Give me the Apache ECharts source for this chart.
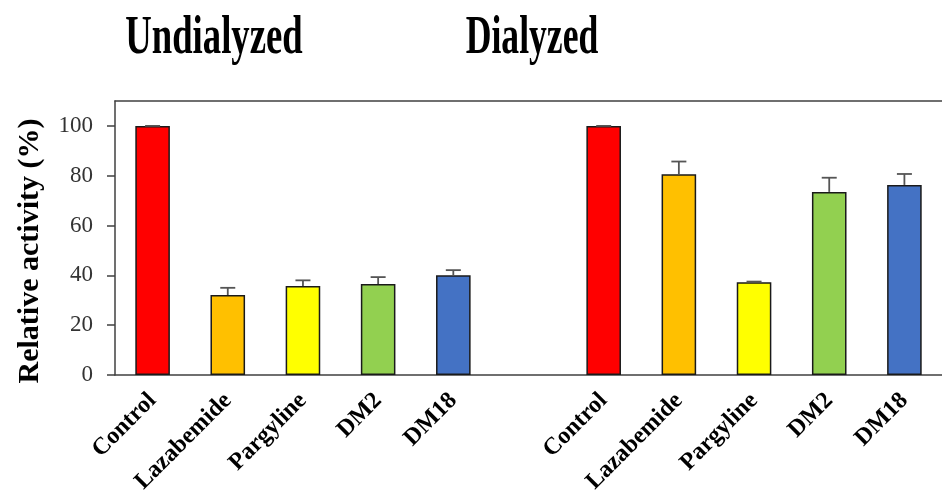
<!DOCTYPE html>
<html>
<head>
<meta charset="utf-8">
<script src="https://cdn.jsdelivr.net/npm/echarts@6/dist/echarts.min.js"></script>
<style>
  html, body { margin: 0; padding: 0; background: #fff; }
  #chart { width: 942px; height: 501px; }
</style>
</head>
<body>
<div id="chart"></div>
<script>
// Panel titles and treatments
const panelTitles = ['Undialyzed', 'Dialyzed'];
const yAxisTitle = 'Relative activity (%)';
const drugs = ['Control', 'Lazabemide', 'Pargyline', 'DM2', 'DM18'];
const drugColors = ['#ff0000', '#ffc000', '#ffff00', '#92d050', '#4472c4'];

// Relative activity (%) with upper error (SD)
const undialyzedMean = [100, 32.1, 35.7, 36.5, 40.0];
const undialyzedErr  = [0, 2.9, 2.3, 2.8, 2.1];
const dialyzedMean   = [100, 80.6, 37.2, 73.5, 76.3];
const dialyzedErr    = [0, 5.1, 0.3, 5.7, 4.4];

// Value axis ticks
const yTicks = [0, 20, 40, 60, 80, 100];
const yMax = 110;

// Category axis: the two groups separated by one empty slot
const categories = [...drugs, '', ...drugs];
const means = [...undialyzedMean, null, ...dialyzedMean];
const errs = [...undialyzedErr, null, ...dialyzedErr];
const colors = [...drugColors, null, ...drugColors];

const barData = means.map((v, i) => v === null ? null : {
  value: v,
  itemStyle: { color: colors[i] }
});
const errData = means.map((v, i) => v === null ? null : [i, v, v + errs[i]]);

const axisColor = '#404040';
const serif = '"Liberation Serif", "Times New Roman", serif';

const chart = echarts.init(document.getElementById('chart'));
chart.setOption({
  animation: false,
  backgroundColor: '#ffffff',
  grid: { left: 115, top: 101, bottom: 126, right: -11, containLabel: false },
  xAxis: [{
    type: 'category',
    data: categories,
    axisLine: { lineStyle: { color: axisColor, width: 1.5 } },
    axisTick: { show: false },
    axisLabel: {
      interval: 0,
      rotate: 45,
      margin: 22,
      fontFamily: serif,
      fontWeight: 'bold',
      fontSize: 24,
      color: '#000'
    }
  }, {
    type: 'category',
    data: categories,
    position: 'top',
    axisLine: { show: true, lineStyle: { color: axisColor, width: 1.5 } },
    axisTick: { show: false },
    axisLabel: { show: false }
  }],
  yAxis: {
    type: 'value',
    min: 0,
    max: yMax,
    interval: 20,
    splitLine: { show: false },
    axisLine: { show: true, lineStyle: { color: axisColor, width: 1.5 } },
    axisTick: { show: true, length: 8, customValues: yTicks, lineStyle: { color: axisColor, width: 1.5 } },
    axisLabel: {
      customValues: yTicks,
      margin: 22,
      fontFamily: serif,
      fontSize: 23,
      color: '#333'
    }
  },
  series: [{
    type: 'bar',
    data: barData,
    barWidth: '46%',
    itemStyle: { borderColor: '#1a1a1a', borderWidth: 1.5 }
  }, {
    type: 'custom',
    data: errData,
    z: 3,
    renderItem: function (params, api) {
      const x = api.value(0);
      const lo = api.coord([x, api.value(1)]);
      const hi = api.coord([x, api.value(2)]);
      const half = 7.5;
      const style = { stroke: '#555', lineWidth: 1.8 };
      return {
        type: 'group',
        children: [
          { type: 'line', shape: { x1: lo[0], y1: lo[1], x2: hi[0], y2: hi[1] }, style },
          { type: 'line', shape: { x1: hi[0] - half, y1: hi[1], x2: hi[0] + half, y2: hi[1] }, style }
        ]
      };
    }
  }],
  graphic: [
    {
      type: 'text', x: 214, y: 39, scaleX: 0.68,
      style: { text: panelTitles[0], font: 'bold 54px ' + serif, fill: '#000', textAlign: 'center', verticalAlign: 'middle' }
    },
    {
      type: 'text', x: 532, y: 39, scaleX: 0.66,
      style: { text: panelTitles[1], font: 'bold 54px ' + serif, fill: '#000', textAlign: 'center', verticalAlign: 'middle' }
    },
    {
      type: 'text', x: 30, y: 251, rotation: Math.PI / 2,
      style: { text: yAxisTitle, font: 'bold 30px ' + serif, fill: '#000', textAlign: 'center', verticalAlign: 'middle' }
    }
  ]
});
</script>
</body>
</html>
